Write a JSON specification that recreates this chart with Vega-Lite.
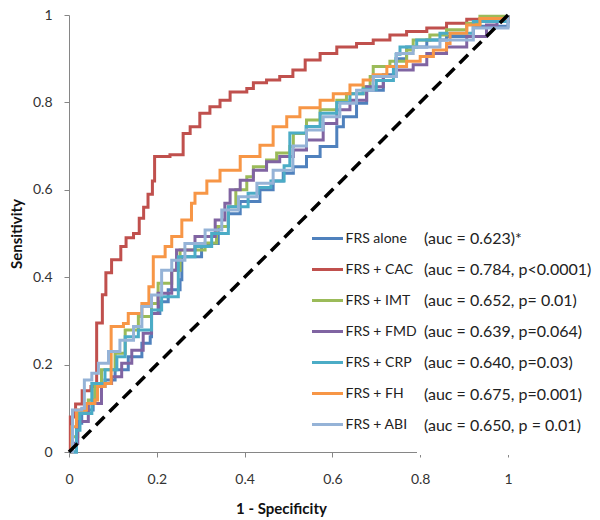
{
  "$schema": "https://vega.github.io/schema/vega-lite/v6.json",
  "width": 439,
  "height": 437,
  "autosize": {"type": "none"},
  "padding": {"left": 69, "top": 15, "right": 92, "bottom": 68},
  "config": {"view": {"stroke": null}, "font": "Lato"},
  "datasets": {
    "roc": [
      {"s":"FRS alone","x":0,"y":0},{"s":"FRS alone","x":0.014,"y":0},{"s":"FRS alone","x":0.017,"y":0.066},{"s":"FRS alone","x":0.029,"y":0.096},{"s":"FRS alone","x":0.055,"y":0.119},{"s":"FRS alone","x":0.059,"y":0.15},{"s":"FRS alone","x":0.082,"y":0.165},{"s":"FRS alone","x":0.105,"y":0.188},{"s":"FRS alone","x":0.135,"y":0.218},{"s":"FRS alone","x":0.166,"y":0.249},{"s":"FRS alone","x":0.185,"y":0.264},{"s":"FRS alone","x":0.188,"y":0.317},{"s":"FRS alone","x":0.207,"y":0.344},{"s":"FRS alone","x":0.226,"y":0.371},{"s":"FRS alone","x":0.253,"y":0.394},{"s":"FRS alone","x":0.257,"y":0.447},{"s":"FRS alone","x":0.276,"y":0.447},{"s":"FRS alone","x":0.302,"y":0.477},{"s":"FRS alone","x":0.34,"y":0.516},{"s":"FRS alone","x":0.363,"y":0.545},{"s":"FRS alone","x":0.39,"y":0.573},{"s":"FRS alone","x":0.435,"y":0.6},{"s":"FRS alone","x":0.465,"y":0.62},{"s":"FRS alone","x":0.488,"y":0.638},{"s":"FRS alone","x":0.511,"y":0.653},{"s":"FRS alone","x":0.541,"y":0.676},{"s":"FRS alone","x":0.572,"y":0.699},{"s":"FRS alone","x":0.61,"y":0.744},{"s":"FRS alone","x":0.625,"y":0.767},{"s":"FRS alone","x":0.655,"y":0.798},{"s":"FRS alone","x":0.678,"y":0.828},{"s":"FRS alone","x":0.716,"y":0.863},{"s":"FRS alone","x":0.745,"y":0.9},{"s":"FRS alone","x":0.769,"y":0.927},{"s":"FRS alone","x":0.815,"y":0.943},{"s":"FRS alone","x":0.86,"y":0.951},{"s":"FRS alone","x":0.921,"y":0.974},{"s":"FRS alone","x":1,"y":1},

      {"s":"FRS + CAC","x":0,"y":0},{"s":"FRS + CAC","x":0.003,"y":0.08},{"s":"FRS + CAC","x":0.015,"y":0.11},{"s":"FRS + CAC","x":0.03,"y":0.14},{"s":"FRS + CAC","x":0.05,"y":0.15},{"s":"FRS + CAC","x":0.063,"y":0.2},{"s":"FRS + CAC","x":0.063,"y":0.295},{"s":"FRS + CAC","x":0.076,"y":0.36},{"s":"FRS + CAC","x":0.084,"y":0.41},{"s":"FRS + CAC","x":0.097,"y":0.44},{"s":"FRS + CAC","x":0.118,"y":0.47},{"s":"FRS + CAC","x":0.13,"y":0.49},{"s":"FRS + CAC","x":0.147,"y":0.5},{"s":"FRS + CAC","x":0.16,"y":0.535},{"s":"FRS + CAC","x":0.17,"y":0.56},{"s":"FRS + CAC","x":0.18,"y":0.59},{"s":"FRS + CAC","x":0.19,"y":0.62},{"s":"FRS + CAC","x":0.195,"y":0.676},{"s":"FRS + CAC","x":0.23,"y":0.68},{"s":"FRS + CAC","x":0.26,"y":0.729},{"s":"FRS + CAC","x":0.276,"y":0.744},{"s":"FRS + CAC","x":0.298,"y":0.775},{"s":"FRS + CAC","x":0.321,"y":0.79},{"s":"FRS + CAC","x":0.344,"y":0.805},{"s":"FRS + CAC","x":0.367,"y":0.824},{"s":"FRS + CAC","x":0.405,"y":0.832},{"s":"FRS + CAC","x":0.42,"y":0.845},{"s":"FRS + CAC","x":0.45,"y":0.851},{"s":"FRS + CAC","x":0.48,"y":0.859},{"s":"FRS + CAC","x":0.51,"y":0.874},{"s":"FRS + CAC","x":0.538,"y":0.897},{"s":"FRS + CAC","x":0.572,"y":0.912},{"s":"FRS + CAC","x":0.61,"y":0.927},{"s":"FRS + CAC","x":0.655,"y":0.935},{"s":"FRS + CAC","x":0.693,"y":0.943},{"s":"FRS + CAC","x":0.731,"y":0.954},{"s":"FRS + CAC","x":0.769,"y":0.962},{"s":"FRS + CAC","x":0.815,"y":0.97},{"s":"FRS + CAC","x":0.86,"y":0.981},{"s":"FRS + CAC","x":0.906,"y":0.99},{"s":"FRS + CAC","x":0.951,"y":0.996},{"s":"FRS + CAC","x":1,"y":1},

      {"s":"FRS + IMT","x":0,"y":0},{"s":"FRS + IMT","x":0.006,"y":0.035},{"s":"FRS + IMT","x":0.02,"y":0.09},{"s":"FRS + IMT","x":0.044,"y":0.119},{"s":"FRS + IMT","x":0.059,"y":0.157},{"s":"FRS + IMT","x":0.074,"y":0.188},{"s":"FRS + IMT","x":0.105,"y":0.226},{"s":"FRS + IMT","x":0.128,"y":0.279},{"s":"FRS + IMT","x":0.158,"y":0.31},{"s":"FRS + IMT","x":0.188,"y":0.34},{"s":"FRS + IMT","x":0.203,"y":0.386},{"s":"FRS + IMT","x":0.234,"y":0.416},{"s":"FRS + IMT","x":0.253,"y":0.462},{"s":"FRS + IMT","x":0.31,"y":0.478},{"s":"FRS + IMT","x":0.336,"y":0.516},{"s":"FRS + IMT","x":0.363,"y":0.561},{"s":"FRS + IMT","x":0.38,"y":0.6},{"s":"FRS + IMT","x":0.405,"y":0.63},{"s":"FRS + IMT","x":0.42,"y":0.653},{"s":"FRS + IMT","x":0.45,"y":0.668},{"s":"FRS + IMT","x":0.473,"y":0.684},{"s":"FRS + IMT","x":0.503,"y":0.699},{"s":"FRS + IMT","x":0.511,"y":0.729},{"s":"FRS + IMT","x":0.541,"y":0.76},{"s":"FRS + IMT","x":0.572,"y":0.783},{"s":"FRS + IMT","x":0.61,"y":0.805},{"s":"FRS + IMT","x":0.632,"y":0.82},{"s":"FRS + IMT","x":0.67,"y":0.836},{"s":"FRS + IMT","x":0.686,"y":0.859},{"s":"FRS + IMT","x":0.693,"y":0.882},{"s":"FRS + IMT","x":0.731,"y":0.894},{"s":"FRS + IMT","x":0.769,"y":0.92},{"s":"FRS + IMT","x":0.784,"y":0.943},{"s":"FRS + IMT","x":0.822,"y":0.954},{"s":"FRS + IMT","x":0.86,"y":0.966},{"s":"FRS + IMT","x":0.906,"y":0.981},{"s":"FRS + IMT","x":0.936,"y":0.997},{"s":"FRS + IMT","x":1,"y":1},

      {"s":"FRS + FMD","x":0,"y":0},{"s":"FRS + FMD","x":0.006,"y":0.02},{"s":"FRS + FMD","x":0.02,"y":0.07},{"s":"FRS + FMD","x":0.044,"y":0.111},{"s":"FRS + FMD","x":0.074,"y":0.157},{"s":"FRS + FMD","x":0.097,"y":0.172},{"s":"FRS + FMD","x":0.12,"y":0.203},{"s":"FRS + FMD","x":0.143,"y":0.233},{"s":"FRS + FMD","x":0.169,"y":0.272},{"s":"FRS + FMD","x":0.188,"y":0.317},{"s":"FRS + FMD","x":0.203,"y":0.363},{"s":"FRS + FMD","x":0.234,"y":0.416},{"s":"FRS + FMD","x":0.245,"y":0.462},{"s":"FRS + FMD","x":0.287,"y":0.493},{"s":"FRS + FMD","x":0.333,"y":0.531},{"s":"FRS + FMD","x":0.355,"y":0.569},{"s":"FRS + FMD","x":0.367,"y":0.6},{"s":"FRS + FMD","x":0.39,"y":0.622},{"s":"FRS + FMD","x":0.42,"y":0.645},{"s":"FRS + FMD","x":0.45,"y":0.664},{"s":"FRS + FMD","x":0.48,"y":0.676},{"s":"FRS + FMD","x":0.511,"y":0.691},{"s":"FRS + FMD","x":0.541,"y":0.714},{"s":"FRS + FMD","x":0.579,"y":0.752},{"s":"FRS + FMD","x":0.61,"y":0.783},{"s":"FRS + FMD","x":0.64,"y":0.805},{"s":"FRS + FMD","x":0.678,"y":0.836},{"s":"FRS + FMD","x":0.716,"y":0.859},{"s":"FRS + FMD","x":0.746,"y":0.874},{"s":"FRS + FMD","x":0.784,"y":0.886},{"s":"FRS + FMD","x":0.815,"y":0.912},{"s":"FRS + FMD","x":0.86,"y":0.927},{"s":"FRS + FMD","x":0.906,"y":0.951},{"s":"FRS + FMD","x":0.951,"y":0.977},{"s":"FRS + FMD","x":0.975,"y":0.985},{"s":"FRS + FMD","x":1,"y":1},

      {"s":"FRS + CRP","x":0,"y":0},{"s":"FRS + CRP","x":0.014,"y":0},{"s":"FRS + CRP","x":0.017,"y":0.05},{"s":"FRS + CRP","x":0.025,"y":0.088},{"s":"FRS + CRP","x":0.052,"y":0.157},{"s":"FRS + CRP","x":0.082,"y":0.188},{"s":"FRS + CRP","x":0.109,"y":0.218},{"s":"FRS + CRP","x":0.128,"y":0.264},{"s":"FRS + CRP","x":0.158,"y":0.279},{"s":"FRS + CRP","x":0.188,"y":0.325},{"s":"FRS + CRP","x":0.211,"y":0.355},{"s":"FRS + CRP","x":0.249,"y":0.447},{"s":"FRS + CRP","x":0.287,"y":0.47},{"s":"FRS + CRP","x":0.325,"y":0.5},{"s":"FRS + CRP","x":0.363,"y":0.561},{"s":"FRS + CRP","x":0.408,"y":0.592},{"s":"FRS + CRP","x":0.431,"y":0.605},{"s":"FRS + CRP","x":0.46,"y":0.62},{"s":"FRS + CRP","x":0.49,"y":0.655},{"s":"FRS + CRP","x":0.503,"y":0.668},{"s":"FRS + CRP","x":0.503,"y":0.73},{"s":"FRS + CRP","x":0.54,"y":0.745},{"s":"FRS + CRP","x":0.572,"y":0.775},{"s":"FRS + CRP","x":0.61,"y":0.8},{"s":"FRS + CRP","x":0.64,"y":0.82},{"s":"FRS + CRP","x":0.67,"y":0.83},{"s":"FRS + CRP","x":0.7,"y":0.85},{"s":"FRS + CRP","x":0.739,"y":0.882},{"s":"FRS + CRP","x":0.745,"y":0.91},{"s":"FRS + CRP","x":0.754,"y":0.927},{"s":"FRS + CRP","x":0.792,"y":0.943},{"s":"FRS + CRP","x":0.845,"y":0.958},{"s":"FRS + CRP","x":0.921,"y":0.985},{"s":"FRS + CRP","x":1,"y":1},

      {"s":"FRS + FH","x":0,"y":0},{"s":"FRS + FH","x":0.006,"y":0.058},{"s":"FRS + FH","x":0.017,"y":0.096},{"s":"FRS + FH","x":0.04,"y":0.111},{"s":"FRS + FH","x":0.059,"y":0.119},{"s":"FRS + FH","x":0.065,"y":0.15},{"s":"FRS + FH","x":0.082,"y":0.157},{"s":"FRS + FH","x":0.096,"y":0.188},{"s":"FRS + FH","x":0.096,"y":0.287},{"s":"FRS + FH","x":0.124,"y":0.294},{"s":"FRS + FH","x":0.135,"y":0.317},{"s":"FRS + FH","x":0.166,"y":0.34},{"s":"FRS + FH","x":0.182,"y":0.378},{"s":"FRS + FH","x":0.192,"y":0.416},{"s":"FRS + FH","x":0.192,"y":0.447},{"s":"FRS + FH","x":0.219,"y":0.47},{"s":"FRS + FH","x":0.234,"y":0.493},{"s":"FRS + FH","x":0.257,"y":0.531},{"s":"FRS + FH","x":0.279,"y":0.569},{"s":"FRS + FH","x":0.287,"y":0.592},{"s":"FRS + FH","x":0.314,"y":0.62},{"s":"FRS + FH","x":0.344,"y":0.645},{"s":"FRS + FH","x":0.39,"y":0.676},{"s":"FRS + FH","x":0.435,"y":0.702},{"s":"FRS + FH","x":0.465,"y":0.744},{"s":"FRS + FH","x":0.496,"y":0.767},{"s":"FRS + FH","x":0.526,"y":0.788},{"s":"FRS + FH","x":0.572,"y":0.805},{"s":"FRS + FH","x":0.602,"y":0.82},{"s":"FRS + FH","x":0.64,"y":0.84},{"s":"FRS + FH","x":0.67,"y":0.851},{"s":"FRS + FH","x":0.693,"y":0.863},{"s":"FRS + FH","x":0.724,"y":0.882},{"s":"FRS + FH","x":0.769,"y":0.894},{"s":"FRS + FH","x":0.8,"y":0.905},{"s":"FRS + FH","x":0.83,"y":0.92},{"s":"FRS + FH","x":0.86,"y":0.935},{"s":"FRS + FH","x":0.868,"y":0.958},{"s":"FRS + FH","x":0.906,"y":0.977},{"s":"FRS + FH","x":0.936,"y":0.992},{"s":"FRS + FH","x":1,"y":1},

      {"s":"FRS + ABI","x":0,"y":0},{"s":"FRS + ABI","x":0.006,"y":0},{"s":"FRS + ABI","x":0.008,"y":0.096},{"s":"FRS + ABI","x":0.029,"y":0.1},{"s":"FRS + ABI","x":0.035,"y":0.165},{"s":"FRS + ABI","x":0.052,"y":0.18},{"s":"FRS + ABI","x":0.067,"y":0.203},{"s":"FRS + ABI","x":0.09,"y":0.23},{"s":"FRS + ABI","x":0.116,"y":0.256},{"s":"FRS + ABI","x":0.147,"y":0.287},{"s":"FRS + ABI","x":0.166,"y":0.333},{"s":"FRS + ABI","x":0.188,"y":0.359},{"s":"FRS + ABI","x":0.211,"y":0.416},{"s":"FRS + ABI","x":0.234,"y":0.439},{"s":"FRS + ABI","x":0.264,"y":0.477},{"s":"FRS + ABI","x":0.31,"y":0.508},{"s":"FRS + ABI","x":0.348,"y":0.554},{"s":"FRS + ABI","x":0.386,"y":0.584},{"s":"FRS + ABI","x":0.428,"y":0.615},{"s":"FRS + ABI","x":0.465,"y":0.645},{"s":"FRS + ABI","x":0.51,"y":0.7},{"s":"FRS + ABI","x":0.541,"y":0.737},{"s":"FRS + ABI","x":0.579,"y":0.767},{"s":"FRS + ABI","x":0.617,"y":0.798},{"s":"FRS + ABI","x":0.655,"y":0.828},{"s":"FRS + ABI","x":0.693,"y":0.859},{"s":"FRS + ABI","x":0.746,"y":0.912},{"s":"FRS + ABI","x":0.784,"y":0.927},{"s":"FRS + ABI","x":0.845,"y":0.943},{"s":"FRS + ABI","x":0.921,"y":0.97},{"s":"FRS + ABI","x":1,"y":1}
    ],
    "diag": [{"x": 0, "y": 0}, {"x": 1, "y": 1}],
    "leg": [
      {"auc": "(auc = 0.623)*"},
      {"auc": "(auc = 0.784, p<0.0001)"},
      {"auc": "(auc = 0.652, p= 0.01)"},
      {"auc": "(auc = 0.639, p=0.064)"},
      {"auc": "(auc = 0.640, p=0.03)"},
      {"auc": "(auc = 0.675, p=0.001)"},
      {"auc": "(auc = 0.650, p = 0.01)"}
    ]
  },
  "layer": [
    {
      "data": {"name": "roc"},
      "mark": {"type": "line", "interpolate": "step-after", "strokeWidth": 3},
      "encoding": {
        "x": {
          "field": "x", "type": "quantitative",
          "scale": {"domain": [0, 1], "nice": false},
          "axis": {
            "values": [0, 0.2, 0.4, 0.6, 0.8, 1], "format": "~g", "grid": false,
            "domainColor": "#868686", "tickColor": "#868686", "tickSize": 5,
            "labelFontSize": 14, "labelColor": "#333333", "labelPadding": 15, "labelFlush": false,
            "title": "1 - Specificity", "titleFontSize": 15, "titleFontWeight": "bold",
            "titleColor": "#111111", "titlePadding": 15, "titleX": 212
          }
        },
        "y": {
          "field": "y", "type": "quantitative",
          "scale": {"domain": [0, 1], "nice": false},
          "axis": {
            "values": [0, 0.2, 0.4, 0.6, 0.8, 1], "format": "~g", "grid": false,
            "domainColor": "#868686", "tickColor": "#868686", "tickSize": 5,
            "labelFontSize": 14, "labelColor": "#333333", "labelPadding": 12, "labelFlush": false,
            "title": "Sensitivity", "titleFontSize": 15, "titleFontWeight": "bold",
            "titleColor": "#111111", "titlePadding": 8
          }
        },
        "color": {
          "field": "s", "type": "nominal",
          "scale": {
            "domain": ["FRS alone", "FRS + CAC", "FRS + IMT", "FRS + FMD", "FRS + CRP", "FRS + FH", "FRS + ABI"],
            "range": ["#4F81BD", "#C0504D", "#9BBB59", "#8064A2", "#4BACC6", "#F79646", "#95B3D7"]
          },
          "legend": {
            "orient": "none", "legendX": 241.5, "legendY": 206.5, "title": null,
            "symbolType": "stroke", "symbolSize": 961, "symbolStrokeWidth": 3,
            "labelFontSize": 14, "labelOffset": 1, "labelColor": "#222222",
            "rowPadding": 7.0, "padding": 0
          }
        },
        "order": {"value": null}
      }
    },
    {
      "data": {"name": "diag"},
      "mark": {"type": "line", "color": "black", "strokeWidth": 3.5, "strokeDash": [12, 7]},
      "encoding": {
        "x": {"field": "x", "type": "quantitative"},
        "y": {"field": "y", "type": "quantitative"}
      }
    },
    {
      "data": {"name": "leg"},
      "mark": {"type": "point", "opacity": 0},
      "encoding": {
        "shape": {
          "field": "auc", "type": "nominal",
          "scale": {"domain": ["(auc = 0.623)*", "(auc = 0.784, p<0.0001)", "(auc = 0.652, p= 0.01)", "(auc = 0.639, p=0.064)", "(auc = 0.640, p=0.03)", "(auc = 0.675, p=0.001)", "(auc = 0.650, p = 0.01)"]},
          "legend": {
            "orient": "none", "legendX": 348, "legendY": 209, "title": " ",
            "titleOrient": "bottom", "titleFontSize": 10, "titlePadding": 4,
            "symbolSize": 0, "symbolStrokeWidth": 0, "symbolOpacity": 0,
            "labelFontSize": 16, "labelOffset": -16, "labelColor": "#222222", "labelLimit": 300,
            "rowPadding": 15.1, "padding": 7, "fillColor": "white", "zindex": 1
          }
        }
      }
    }
  ]
}
